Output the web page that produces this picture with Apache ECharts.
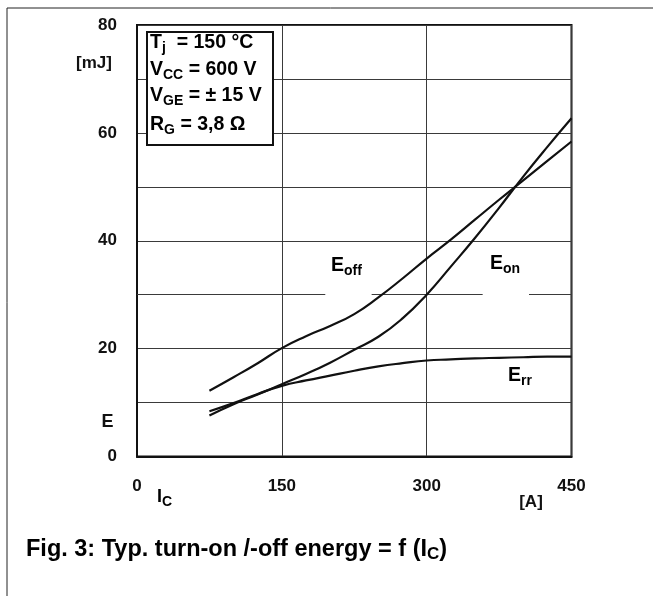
<!DOCTYPE html>
<html>
<head>
<meta charset="utf-8">
<script src="https://cdn.jsdelivr.net/npm/echarts@6/dist/echarts.min.js"></script>
<style>
  html, body { margin: 0; padding: 0; background: #fff; }
  #chart { width: 653px; height: 596px; }
</style>
</head>
<body>
<div id="chart"></div>
<script>
// Collector current I_C [A]
const current = [75, 100, 125, 150, 175, 200, 225, 250, 275, 300, 325, 350, 375, 400, 425, 450];
// Switching energies [mJ]
const eOff = [12.2, 14.7, 17.3, 20.1, 22.3, 24.2, 26.4, 29.5, 33.0, 36.7, 40.2, 43.9, 47.6, 51.2, 54.8, 58.4];
const eOn  = [7.6, 9.7, 11.5, 13.4, 15.3, 17.4, 19.8, 22.2, 25.6, 30.0, 35.2, 40.5, 46.1, 51.9, 57.4, 62.7];
const eRr  = [8.4, 9.9, 11.6, 13.1, 14.1, 15.0, 15.9, 16.7, 17.3, 17.8, 18.0, 18.2, 18.3, 18.4, 18.5, 18.5];

// Axis ticks
const xTicks = [0, 150, 300, 450];
const yTicks = [0, 20, 40, 60, 80];
// The 30 mJ grid line is broken where the curve labels sit: [from, to] in A
const grid30Segments = [[0, 195], [243, 358], [406, 450]];
const grid30Level = 30;

const FONT = '"Liberation Sans", Arial, Helvetica, sans-serif';
const INK = '#111';
const GRID = '#3a3a3a';
const W = 'bold';

const pairs = ys => current.map((x, i) => [x, ys[i]]);

// colours for split lines at 0,10,...,80; the 30 line is drawn in segments instead
const splitColors = [0, 10, 20, 30, 40, 50, 60, 70, 80].map(v => v === grid30Level ? 'rgba(0,0,0,0)' : GRID);

const sub = { fontSize: 14, fontWeight: W, fontFamily: FONT, color: INK, padding: [10, 0, 0, 0] };
const main = { fontSize: 19.5, fontWeight: W, fontFamily: FONT, color: INK };

const chart = echarts.init(document.getElementById('chart'), null, { renderer: 'canvas' });

const curve = (name, ys, extra) => Object.assign({
  name, type: 'line', data: pairs(ys), smooth: 0.5,
  symbol: 'none', lineStyle: { color: INK, width: 2.2 }, z: 5, silent: true
}, extra || {});

chart.setOption({
  backgroundColor: '#fff',
  animation: false,
  grid: { left: 137, right: 81.5, top: 25, bottom: 139.5, show: true, borderColor: INK, borderWidth: 2, backgroundColor: 'transparent' },
  xAxis: {
    type: 'value', min: 0, max: 450, interval: 150,
    axisLine: { show: true, lineStyle: { color: INK, width: 2 } },
    axisTick: { show: false },
    splitLine: { show: true, lineStyle: { color: GRID, width: 1 } },
    axisLabel: {
      margin: 21, fontSize: 17, fontWeight: W, fontFamily: FONT, color: INK,
      formatter: v => xTicks.includes(v) ? String(v) : ''
    }
  },
  yAxis: {
    type: 'value', min: 0, max: 80, interval: 10,
    axisLine: { show: true, lineStyle: { color: INK, width: 2 } },
    axisTick: { show: false },
    splitLine: { show: true, lineStyle: { color: splitColors, width: 1 } },
    axisLabel: {
      margin: 20, fontSize: 17, fontWeight: W, fontFamily: FONT, color: INK,
      formatter: v => yTicks.includes(v) ? String(v) : ''
    }
  },
  series: [
    curve('Eoff', eOff),
    curve('Eon', eOn),
    curve('Err', eRr, {
      markLine: {
        silent: true, symbol: ['none', 'none'], label: { show: false },
        lineStyle: { color: GRID, width: 1, type: 'solid' },
        emphasis: { disabled: true },
        data: grid30Segments.map(s => [{ coord: [s[0], grid30Level] }, { coord: [s[1], grid30Level] }])
      }
    })
  ],
  graphic: [
    // outer figure frame
    { type: 'polyline', shape: { points: [[7, 700], [7, 8], [700, 8]] }, style: { stroke: '#222', lineWidth: 1, fill: null }, z: 1 },
    // conditions box
    { type: 'rect', shape: { x: 147, y: 32, width: 126, height: 113 }, style: { fill: '#fff', stroke: INK, lineWidth: 2 }, z: 20 },
    { type: 'text', left: 150, top: 33, z: 21, style: { text: '{m|T}{s|j}{m|  = 150 °C}', rich: { m: main, s: sub } } },
    { type: 'text', left: 150, top: 60, z: 21, style: { text: '{m|V}{s|CC}{m| = 600 V}', rich: { m: main, s: sub } } },
    { type: 'text', left: 150, top: 86, z: 21, style: { text: '{m|V}{s|GE}{m| = ± 15 V}', rich: { m: main, s: sub } } },
    { type: 'text', left: 150, top: 115, z: 21, style: { text: '{m|R}{s|G}{m| = 3,8 Ω}', rich: { m: main, s: sub } } },
    // axis names
    { type: 'text', x: 94, y: 63, z: 21, style: { text: '[mJ]', font: W + ' 17px ' + FONT, fill: INK, align: 'center', verticalAlign: 'middle' } },
    { type: 'text', x: 107.5, y: 422, z: 21, style: { text: 'E', font: W + ' 18px ' + FONT, fill: INK, align: 'center', verticalAlign: 'middle' } },
    { type: 'text', left: 157, top: 488, z: 21, style: { text: '{m|I}{s|C}', rich: { m: { fontSize: 18, fontWeight: W, fontFamily: FONT, color: INK }, s: sub } } },
    { type: 'text', x: 531, y: 502, z: 21, style: { text: '[A]', font: W + ' 17px ' + FONT, fill: INK, align: 'center', verticalAlign: 'middle' } },
    // curve labels
    { type: 'text', left: 331, top: 256, z: 21, style: { text: '{m|E}{s|off}', rich: { m: main, s: sub } } },
    { type: 'text', left: 490, top: 254, z: 21, style: { text: '{m|E}{s|on}', rich: { m: main, s: sub } } },
    { type: 'text', left: 508, top: 366, z: 21, style: { text: '{m|E}{s|rr}', rich: { m: main, s: sub } } },
    // caption
    { type: 'text', left: 26, top: 538, z: 21, style: { text: '{m|Fig. 3: Typ. turn-on /-off energy = f (I}{s|C}{m|)}', rich: { m: { fontSize: 23.5, fontWeight: W, fontFamily: FONT, color: INK }, s: { fontSize: 17, fontWeight: W, fontFamily: FONT, color: INK, padding: [9, 0, 0, 0] } } } }
  ]
});
</script>
</body>
</html>
